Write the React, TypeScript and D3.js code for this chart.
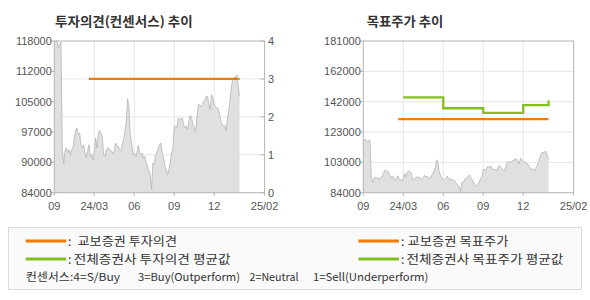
import React from "react";
import * as d3 from "d3";

// ---------- data ----------
// price series, one value per 0.1 month from the start of the window
const priceSeries = [
  117550, 117770, 118070, 116430, 117180, 117770, 94020, 90430, 93270, 94020,
  92900, 93640, 92370, 93640, 94020, 96260, 98130, 98500, 97000, 97380,
  94760, 94020, 94760, 92900, 91780, 93270, 94760, 92150, 92520, 91400,
  93270, 96260, 94020, 97000, 97900, 97380, 96630, 92520, 92150, 93490,
  94020, 93870, 93640, 93270, 92670, 93420, 95140, 94390, 94390, 93640,
  93420, 94760, 95880, 97750, 100000, 105070, 103350, 97000, 95140, 92520,
  92900, 92150, 92900, 94610, 92900, 92520, 92900, 91780, 92150, 90660,
  89910, 88790, 88040, 84680, 90660, 90280, 92520, 92900, 94020, 94760,
  95140, 92900, 91780, 89910, 89160, 88040, 89160, 90660, 92900, 94020,
  98870, 98870, 98500, 100740, 100590, 100370, 100740, 99250, 98500, 98870,
  98130, 100000, 101340, 100740, 99250, 98650, 97750, 100740, 103730, 103730,
  103350, 103730, 104470, 104850, 105600, 105600, 103730, 102610, 105970, 105220,
  103730, 103350, 102980, 102830, 101490, 100000, 99100, 99100, 99100, 97900,
  100740, 102610, 105220, 107840, 109700, 109700, 110080, 110450, 107840, 105600,
];
const priceStepMonths = 0.1;

const xTickMonths = [0, 3, 6, 9, 12, 15.78];
const xTickLabels = ["09", "24/03", "06", "09", "12", "25/02"];

const priceTickLabelsLeft = ["84000", "90000", "97000", "105000", "112000", "118000"];
const opinionTicks = [0, 1, 2, 3, 4];
const priceTickLabelsRight = ["84000", "103000", "123000", "142000", "162000", "181000"];

// investment opinion (1..4)
const kyoboOpinionMonths = [2.6, 13.8];
const kyoboOpinionValues = [3, 3];
const consensusOpinionMonths = [13.8, 13.92];
const consensusOpinionValues = [3, 3];

// target price
const kyoboTargetMonths = [2.63, 13.9];
const kyoboTargetValues = [131000, 131000];
const consensusTargetMonths = [3, 6, 9, 12, 13.9];
const consensusTargetValues = [145000, 138000, 135000, 140000, 143000];

const legendLabels = ["교보증권 투자의견", "전체증권사 투자의견 평균값", "교보증권 목표주가", "전체증권사 목표주가 평균값"];
const legendColors = ["#f27a00", "#82c01e", "#f27a00", "#82c01e"];
const consensusNotes = ["컨센서스:4=S/Buy", "3=Buy(Outperform)", "2=Neutral", "1=Sell(Underperform)"];

// ---------- style ----------
const ORANGE = "#f27a00";
const GREEN = "#82c01e";
const AXIS = "#b4b4b4";
const GRID = "#e6e6e6";
const LABEL = "#555";
const NUMFONT = "'Liberation Sans', Arial, sans-serif";
const KFONT = "'Noto Sans CJK KR', 'Liberation Sans', sans-serif";

const TOP = 41;
const BOTTOM = 192.7;
const monthDomain: [number, number] = [0, xTickMonths[xTickMonths.length - 1]];

type Pt = [number, number];

function Panel({
  x0, x1, yPrice, priceLabels, title, titleX, titleW, children, rightAxis,
}: {
  x0: number; x1: number;
  yPrice: d3.ScaleLinear<number, number>;
  priceLabels: string[];
  title: string; titleX: number; titleW: number;
  children?: React.ReactNode;
  rightAxis?: d3.ScaleLinear<number, number>;
}) {
  const x = d3.scaleLinear().domain(monthDomain).range([x0, x1]);
  const labelPos = d3.scalePoint<string>().domain(priceLabels).range([BOTTOM, TOP]);
  const pts: Pt[] = priceSeries.map((v, i) => [i * priceStepMonths, v]);
  const area = d3.area<Pt>().x((d) => x(d[0])).y0(BOTTOM).y1((d) => yPrice(d[1]));
  const line = d3.line<Pt>().x((d) => x(d[0])).y((d) => yPrice(d[1]));
  const hGrid = rightAxis
    ? opinionTicks.slice(1, -1).map((t) => rightAxis(t))
    : priceLabels.slice(1, -1).map((l) => labelPos(l) as number);
  return (
    <g>
      <text x={titleX} y={26} fontFamily={KFONT} fontWeight="bold" fontSize={13} fill="#333"
        textLength={titleW} lengthAdjust="spacingAndGlyphs">
        {title}
      </text>
      {xTickMonths.slice(1, -1).map((m, i) => (
        <line key={"v" + i} x1={x(m)} x2={x(m)} y1={TOP} y2={BOTTOM} stroke={GRID} />
      ))}
      {hGrid.map((yy, i) => (
        <line key={"h" + i} x1={x0} x2={x1} y1={yy} y2={yy} stroke={GRID} />
      ))}
      <path d={area(pts) || ""} fill="#e0e0e0" />
      <path d={line(pts) || ""} fill="none" stroke="#b4b4b4" strokeWidth={0.8} />
      {children}
      <rect x={x0} y={TOP} width={x1 - x0} height={BOTTOM - TOP} fill="none" stroke={AXIS} />
      {priceLabels.map((l) => {
        const yy = labelPos(l) as number;
        return (
          <g key={"yl" + l}>
            <line x1={x0 - 3} x2={x0} y1={yy} y2={yy} stroke={AXIS} />
            <text x={x0 - 2.5} y={yy + 4} textAnchor="end" fontFamily={NUMFONT} fontSize={11} fill={LABEL}>
              {l}
            </text>
          </g>
        );
      })}
      {rightAxis &&
        opinionTicks.map((t) => (
          <g key={"yr" + t}>
            <line x1={x1 - 4} x2={x1} y1={rightAxis(t)} y2={rightAxis(t)} stroke={AXIS} />
            <text x={x1 + 3.5} y={rightAxis(t) + 4} fontFamily={NUMFONT} fontSize={11} fill={LABEL}>
              {t}
            </text>
          </g>
        ))}
      {xTickMonths.map((m, i) => (
        <g key={"xt" + i}>
          <line x1={x(m)} x2={x(m)} y1={BOTTOM} y2={BOTTOM + 3} stroke={AXIS} />
          <text x={x(m)} y={210} textAnchor="middle" fontFamily={NUMFONT} fontSize={11} fill={LABEL}>
            {xTickLabels[i]}
          </text>
        </g>
      ))}
    </g>
  );
}

export default function App() {
  // left panel
  const xL = d3.scaleLinear().domain(monthDomain).range([54.3, 264.6]);
  const yL = d3.scaleLinear().domain([84000, 118000]).range([BOTTOM, TOP]);
  const yOp = d3.scaleLinear().domain([0, 4]).range([BOTTOM, TOP]);
  const opLine = d3.line<Pt>().x((d) => xL(d[0])).y((d) => yOp(d[1]));
  const kyoboOp: Pt[] = kyoboOpinionMonths.map((m, i) => [m, kyoboOpinionValues[i]]);
  const consOp: Pt[] = consensusOpinionMonths.map((m, i) => [m, consensusOpinionValues[i]]);

  // right panel
  const xR = d3.scaleLinear().domain(monthDomain).range([363.3, 573.6]);
  const yR = d3.scaleLinear().domain([84000, 181000]).range([BOTTOM, TOP]);
  const tLine = d3.line<Pt>().x((d) => xR(d[0])).y((d) => yR(d[1]));
  const tStep = d3.line<Pt>().x((d) => xR(d[0])).y((d) => yR(d[1])).curve(d3.curveStepAfter);
  const kyoboT: Pt[] = kyoboTargetMonths.map((m, i) => [m, kyoboTargetValues[i]]);
  const consT: Pt[] = consensusTargetMonths.map((m, i) => [m, consensusTargetValues[i]]);

  const legendPos = [
    { x: 25.7, y: 241, colon: 68, tx: 77.5, w: 99.5 },
    { x: 25.7, y: 259, colon: 68, tx: 73.7, w: 157 },
    { x: 358.4, y: 241, colon: 401, tx: 407.6, w: 101 },
    { x: 358.4, y: 259, colon: 401, tx: 406.4, w: 157 },
  ];
  const notePos = [
    { x: 25.7, w: 94.3 },
    { x: 138, w: 102 },
    { x: 249.5, w: 49 },
    { x: 313, w: 115.4 },
  ];

  return (
    <svg
      width={590}
      height={300}
      style={{ position: "absolute", left: 0, top: 0, background: "#fff" }}
    >
      <rect x={0} y={0} width={590} height={300} fill="#fff" />
      <Panel
        x0={54.3}
        x1={264.6}
        yPrice={yL}
        priceLabels={priceTickLabelsLeft}
        title="투자의견(컨센서스) 추이"
        titleX={55}
        titleW={137.7}
        rightAxis={yOp}
      >
        <path d={opLine(consOp) || ""} fill="none" stroke={GREEN} strokeWidth={2.3} />
        <path d={opLine(kyoboOp) || ""} fill="none" stroke={ORANGE} strokeWidth={2.3} />
      </Panel>
      <Panel
        x0={363.3}
        x1={573.6}
        yPrice={yR}
        priceLabels={priceTickLabelsRight}
        title="목표주가 추이"
        titleX={366.7}
        titleW={76.6}
      >
        <path d={tStep(consT) || ""} fill="none" stroke={GREEN} strokeWidth={2.3} />
        <path d={tLine(kyoboT) || ""} fill="none" stroke={ORANGE} strokeWidth={2.3} />
      </Panel>

      {/* legend */}
      <rect x={8.5} y={227.5} width={573} height={62} fill="#fafafa" stroke="#dcdcdc" />
      {legendLabels.map((label, i) => {
        const p = legendPos[i];
        return (
          <g key={"lg" + i}>
            <line x1={p.x} x2={p.x + 40.5} y1={p.y} y2={p.y} stroke={legendColors[i]} strokeWidth={3} />
            <text x={p.colon} y={p.y + 4.5} fontFamily={KFONT} fontSize={12} fill="#333">:</text>
            <text x={p.tx} y={p.y + 4.5} fontFamily={KFONT} fontSize={12} fill="#333"
              textLength={p.w} lengthAdjust="spacingAndGlyphs">
              {label}
            </text>
          </g>
        );
      })}
      {consensusNotes.map((n, i) => (
        <text key={"n" + i} x={notePos[i].x} y={281} fontFamily={KFONT} fontSize={11} fill="#333"
          textLength={notePos[i].w} lengthAdjust="spacingAndGlyphs">
          {n}
        </text>
      ))}
    </svg>
  );
}
